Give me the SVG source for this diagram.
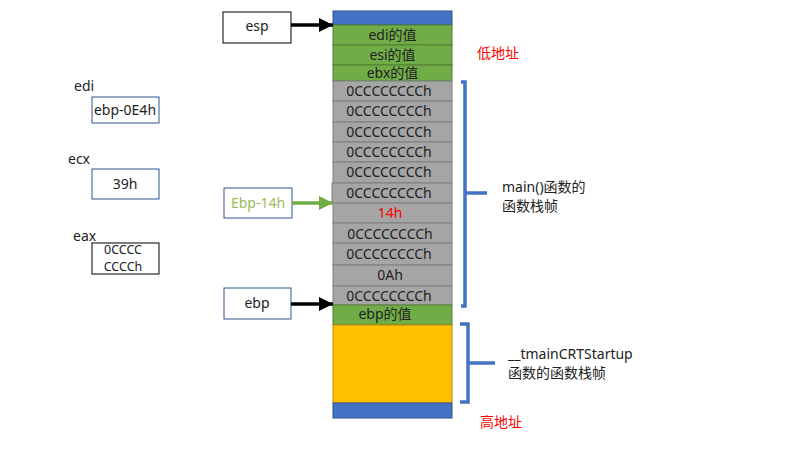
<svg xmlns="http://www.w3.org/2000/svg" width="800" height="450" viewBox="0 0 800 450">
<defs>
<style>
text{font-family:"Noto Sans","Noto Sans CJK SC",sans-serif;font-size:14px;fill:#222;}
.c{text-anchor:middle;}
.gray{fill:#A5A5A5;stroke:#7F7F7F;stroke-width:1;}
.green{fill:#70AD47;stroke:#507E32;stroke-width:1;}
.blue{fill:#4472C4;stroke:#2F528F;stroke-width:1;}
.yellow{fill:#FFC000;stroke:#BC8C00;stroke-width:1;}
.box{fill:#fff;stroke:#000;stroke-width:1;}
.bbox{fill:#fff;stroke:#2F5597;stroke-width:1;}
.brace{fill:none;stroke:#4472C4;stroke-width:3.5;}
.red{fill:#FF0000;}
.sm{font-size:12.5px;}
</style>
<marker id="ah" viewBox="0 0 10 10" refX="10" refY="5" markerWidth="4" markerHeight="4" orient="auto"><path d="M0,0L10,5L0,10z" fill="#000"/></marker>
<marker id="ahg" viewBox="0 0 10 10" refX="10" refY="5" markerWidth="4" markerHeight="4" orient="auto"><path d="M0,0L10,5L0,10z" fill="#70AD47"/></marker>
</defs>
<rect width="800" height="450" fill="#fff"/>
<g id="stack">
<rect class="blue" x="333" y="11" width="119" height="14"/>
<rect class="green" x="333" y="25" width="119" height="20"/><text class="c" x="392.5" y="40">edi的值</text>
<rect class="green" x="333" y="45" width="119" height="20"/><text class="c" x="392.5" y="60">esi的值</text>
<rect class="green" x="333" y="65" width="119" height="16"/><text class="c" x="392.5" y="78">ebx的值</text>
<rect class="gray" x="333" y="81" width="119" height="20"/><text class="c" x="389" y="96">0CCCCCCCCh</text>
<rect class="gray" x="333" y="101" width="119" height="21"/><text class="c" x="389" y="116">0CCCCCCCCh</text>
<rect class="gray" x="333" y="122" width="119" height="20"/><text class="c" x="389" y="137">0CCCCCCCCh</text>
<rect class="gray" x="333" y="142" width="119" height="20"/><text class="c" x="389" y="157">0CCCCCCCCh</text>
<rect class="gray" x="333" y="162" width="119" height="21"/><text class="c" x="389" y="177">0CCCCCCCCh</text>
<rect class="gray" x="332" y="183" width="120" height="20"/><text class="c" x="389" y="198">0CCCCCCCCh</text>
<rect class="gray" x="333" y="203" width="119" height="20"/><text class="c red" x="390" y="218">14h</text>
<rect class="gray" x="333" y="223" width="119" height="20"/><text class="c" x="390" y="239">0CCCCCCCCh</text>
<rect class="gray" x="333" y="243" width="119" height="22"/><text class="c" x="389" y="259">0CCCCCCCCh</text>
<rect class="gray" x="333" y="265" width="119" height="21"/><text class="c" x="390" y="280">0Ah</text>
<rect class="gray" x="333" y="286" width="119" height="19"/><text class="c" x="389" y="301">0CCCCCCCCh</text>
<rect class="green" x="333" y="305" width="119" height="20"/><text class="c" x="385" y="319">ebp的值</text>
<rect class="yellow" x="333" y="325" width="119" height="78"/>
<rect class="blue" x="333" y="403" width="119" height="15"/>
</g>
<g id="esp"><rect class="box" x="223" y="12" width="68" height="31"/><text class="c" x="257" y="31">esp</text></g>
<g id="ebp14"><rect class="bbox" x="224" y="188" width="68" height="30"/><text class="c" x="258" y="208" style="fill:#9BBB59">Ebp-14h</text></g>
<g id="ebp"><rect class="bbox" x="224" y="288" width="67" height="31"/><text class="c" x="257" y="308">ebp</text></g>
<g id="edi"><text x="74" y="91">edi</text><rect class="bbox" x="92" y="97" width="67" height="26"/><text class="c" x="125" y="115">ebp-0E4h</text></g>
<g id="ecx"><text x="68" y="164">ecx</text><rect class="bbox" x="92" y="169" width="67" height="30"/><text class="c" x="125" y="189">39h</text></g>
<g id="eax"><text x="73" y="241">eax</text><rect class="box" x="92" y="243" width="67" height="31"/><text class="c sm" x="123" y="254">0CCCC<tspan x="123" dy="16.5">CCCCh</tspan></text></g>
<g id="labels">
<text class="red" x="477" y="58">低地址</text>
<text class="red" x="480" y="427">高地址</text>
<text x="502" y="192">main()函数的</text>
<text x="502" y="211">函数栈帧</text>
<text x="508" y="359">__tmainCRTStartup</text>
<text x="508" y="378">函数的函数栈帧</text>
</g>
<g id="connectors">
<line x1="291" y1="25" x2="333" y2="25" stroke="#000" stroke-width="3.5" marker-end="url(#ah)"/>
<line x1="292" y1="203" x2="333" y2="203" stroke="#70AD47" stroke-width="3.5" marker-end="url(#ahg)"/>
<line x1="291" y1="304" x2="333" y2="304" stroke="#000" stroke-width="3.5" marker-end="url(#ah)"/>
<path class="brace" d="M461,82H465V193H487M465,193V306H461"/>
<path class="brace" d="M460,324H468V363H495M468,363V402H460"/>
</g>
</svg>
